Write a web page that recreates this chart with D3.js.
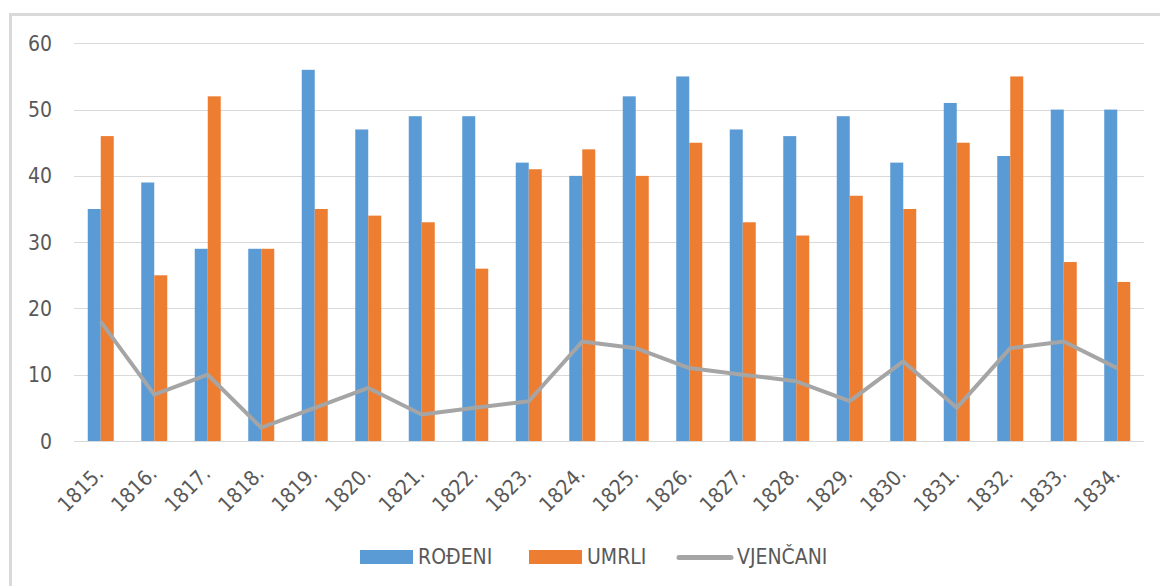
<!DOCTYPE html>
<html>
<head>
<meta charset="utf-8">
<script src="https://cdn.jsdelivr.net/npm/d3@7"></script>
<style>
  body { margin: 0; background: #fff; }
  svg { display: block; }
  text { font-family: "DejaVu Sans Condensed", "DejaVu Sans", sans-serif; font-stretch: condensed; fill: #595959; }
</style>
</head>
<body>
<div class="wrapper"><svg width="1160" height="586"></svg></div>
<script>
var years = ['1815.', '1816.', '1817.', '1818.', '1819.', '1820.', '1821.', '1822.', '1823.', '1824.',
             '1825.', '1826.', '1827.', '1828.', '1829.', '1830.', '1831.', '1832.', '1833.', '1834.'];
var rodeni  = [35, 39, 29, 29, 56, 47, 49, 49, 42, 40, 52, 55, 47, 46, 49, 42, 51, 43, 50, 50];
var umrli   = [46, 25, 52, 29, 35, 34, 33, 26, 41, 44, 40, 45, 33, 31, 37, 35, 45, 55, 27, 24];
var vjencani = [18, 7, 10, 2, 5, 8, 4, 5, 6, 15, 14, 11, 10, 9, 6, 12, 5, 14, 15, 11];
var yTicks = [0, 10, 20, 30, 40, 50, 60];
var seriesNames = ['ROĐENI', 'UMRLI', 'VJENČANI'];
var colors = ['#5b9bd5', '#ed7d31', '#a5a5a5'];

draw();

function draw()
{
    var svg = d3.select('.wrapper').select('svg');

    /* chart frame, only left and top edges are visible */
    svg.append('path')
        .attr('d', 'M10.5,587 V14.5 H1161')
        .attr('fill', 'none')
        .attr('stroke', '#d9d9d9')
        .attr('stroke-width', 3);

    var left = 74, right = 1144, top = 43.3, bottom = 441;

    var x = d3.scaleBand().domain(years).range([left, right]);
    var y = d3.scaleLinear().domain([0, 60]).range([bottom, top]);

    /* the two bars of each year sit in the middle of the band */
    var groupWidth = 26;
    var x1 = d3.scaleBand().domain([0, 1]).range([0, groupWidth]);

    // grid
    svg.append('g').selectAll('line').data(yTicks).enter().append('line')
        .attr('x1', left).attr('x2', right)
        .attr('y1', function(d) { return Math.round(y(d)) + 0.5; })
        .attr('y2', function(d) { return Math.round(y(d)) + 0.5; })
        .attr('stroke', '#d9d9d9')
        .attr('stroke-width', 1);

    // y labels
    svg.append('g').selectAll('text').data(yTicks).enter().append('text')
        .attr('x', 52)
        .attr('y', function(d) { return y(d); })
        .attr('dy', '0.36em')
        .attr('text-anchor', 'end')
        .attr('font-size', 21)
        .text(function(d) { return d; });

    var bars = [rodeni, umrli];
    bars.forEach(function(values, s) {
        svg.append('g').selectAll('rect').data(values).enter().append('rect')
            .attr('fill', colors[s])
            .attr('x', function(v, i) { return x(years[i]) + (x.bandwidth() - groupWidth) / 2 + x1(s); })
            .attr('width', x1.bandwidth())
            .attr('y', function(v) { return y(v); })
            .attr('height', function(v) { return bottom - y(v); });
    });

    var line = d3.line()
        .x(function(v, i) { return x(years[i]) + x.bandwidth() / 2; })
        .y(function(v) { return y(v); });

    svg.append('path')
        .datum(vjencani)
        .attr('d', line)
        .attr('fill', 'none')
        .attr('stroke', colors[2])
        .attr('stroke-width', 4)
        .attr('stroke-linejoin', 'round');

    // x labels
    svg.append('g').selectAll('text').data(years).enter().append('text')
        .attr('transform', function(d) {
            return 'translate(' + (x(d) + x.bandwidth() / 2 + 4) + ',475) rotate(-45)';
        })
        .attr('text-anchor', 'end')
        .attr('font-size', 21)
        .text(function(d) { return d; });

    // legend
    var legend = svg.append('g');
    var items = [
        { sx: 360, tx: 418 },
        { sx: 529, tx: 587 },
        { sx: 677, tx: 737 }
    ];
    items.forEach(function(it, i) {
        if (i < 2) {
            legend.append('rect')
                .attr('x', it.sx).attr('y', 550)
                .attr('width', 53).attr('height', 14)
                .attr('fill', colors[i]);
        } else {
            legend.append('line')
                .attr('x1', it.sx + 2).attr('x2', it.sx + 54)
                .attr('y1', 557.5).attr('y2', 557.5)
                .attr('stroke', colors[i])
                .attr('stroke-width', 5)
                .attr('stroke-linecap', 'round');
        }
        legend.append('text')
            .attr('x', it.tx).attr('y', 564)
            .attr('font-size', 21)
            .text(seriesNames[i]);
    });
}
</script>
</body>
</html>
